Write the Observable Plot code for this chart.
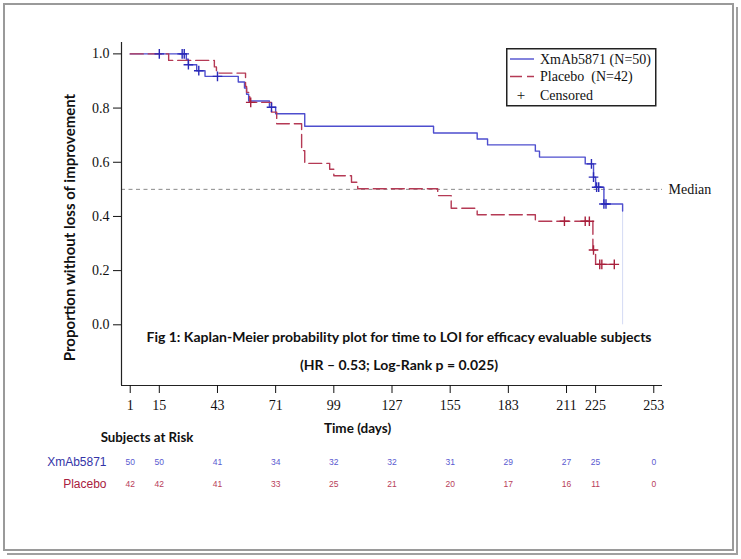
<!DOCTYPE html>
<html>
<head>
<meta charset="utf-8">
<script src="https://cdn.jsdelivr.net/npm/d3@7"></script>
<script src="https://cdn.jsdelivr.net/npm/@observablehq/plot@0.6"></script>
<style>
  html, body { margin: 0; padding: 0; background: #fff; }
  #wrap { position: relative; width: 741px; height: 559px; overflow: hidden; }
  #border { position: absolute; left: 3px; top: 3px; width: 727px; height: 544px; border: 2px solid #9a9a9a; box-shadow: 2px 2px 0 0 #fff, 4px 4px 0 0 #a0a0a0; }
  #legend { position: absolute; left: 506px; top: 48px; }
</style>
</head>
<body>
<div id="wrap">
  <div id="border"></div>
  <div id="chart"></div>
  <div id="legend"></div>
</div>
<script>
// ---- data ----
const xmabTime = [1, 28, 29, 33, 37, 53, 56, 57, 58, 68, 71, 85, 147, 168, 173, 196, 198, 220, 224, 225, 229, 238];
const xmabSurv = [1, 0.98, 0.96, 0.938, 0.917, 0.896, 0.874, 0.851, 0.826, 0.803, 0.779, 0.733, 0.708, 0.686, 0.664, 0.641, 0.619, 0.594, 0.545, 0.508, 0.446, 0.42];
const placeboTime = [1, 19.5, 41.5, 42.5, 56.5, 57, 58.5, 69, 71.5, 83.5, 85, 97, 99, 107.5, 110.5, 149, 155.5, 168, 196, 223.7, 225, 234];
const placeboSurv = [1, 0.976, 0.952, 0.929, 0.88, 0.858, 0.821, 0.785, 0.742, 0.643, 0.596, 0.574, 0.55, 0.526, 0.502, 0.477, 0.43, 0.406, 0.382, 0.276, 0.223, 0.223];
const xmabCensTime = [15, 26, 27, 29, 34, 43, 69, 223, 224, 225.5, 226.5, 229, 230];
const xmabCensSurv = [1, 1, 1, 0.96, 0.938, 0.917, 0.803, 0.594, 0.545, 0.508, 0.508, 0.446, 0.446];
const placeboCensTime = [59, 210, 220, 222, 224, 227, 228, 234];
const placeboCensSurv = [0.821, 0.382, 0.382, 0.382, 0.276, 0.223, 0.223, 0.223];
const riskDays = [1, 15, 43, 71, 99, 127, 155, 183, 211, 225, 253];
const xmabRisk = [50, 50, 41, 34, 32, 32, 31, 29, 27, 25, 0];
const placeboRisk = [42, 42, 41, 33, 25, 21, 20, 17, 16, 11, 0];
const yTicks = [0, 0.2, 0.4, 0.6, 0.8, 1.0];
const lastXmabTime = 238, lastXmabSurv = 0.42;
const medianLevel = 0.5;

const xmab = xmabTime.map((t, i) => ({t, s: xmabSurv[i]}));
const placebo = placeboTime.map((t, i) => ({t, s: placeboSurv[i]}));
const xmabCens = xmabCensTime.map((t, i) => ({t, s: xmabCensSurv[i]}));
const placeboCens = placeboCensTime.map((t, i) => ({t, s: placeboCensSurv[i]}));

const BLUE = "#4e4ece", RED = "#b53a55";
const SERIF = "Liberation Serif, Times New Roman, serif";
const SANS = "Lato, Open Sans, sans-serif";
const ARIAL = "Liberation Sans, Arial, sans-serif";
const xDom = [-3.2, 257.2], yDom = [-0.224, 1.042];
const T = {lineAnchor: "middle", textAnchor: "middle"};

const chart = Plot.plot({
  width: 741,
  height: 559,
  marginLeft: 121,
  marginRight: 79,
  marginTop: 42,
  marginBottom: 174,
  style: {background: "transparent", overflow: "visible"},
  x: {domain: xDom},
  y: {domain: yDom},
  marks: [
    Plot.ruleY([medianLevel], {stroke: "#8a8a8a", strokeDasharray: "4,3.5", strokeWidth: 1}),
    Plot.text([medianLevel], {y: d => d, frameAnchor: "right", dx: 6, textAnchor: "start", lineAnchor: "middle", text: () => "Median", fontFamily: SERIF, fontSize: 14, fill: "#111"}),
    Plot.ruleX([lastXmabTime], {y1: 0, y2: lastXmabSurv, stroke: "#d4daf4", strokeWidth: 1}),
    Plot.line(xmab, {x: "t", y: "s", curve: "step-after", stroke: BLUE, strokeWidth: 1.4}),
    Plot.line(placebo, {x: "t", y: "s", curve: "step-after", stroke: RED, strokeWidth: 1.4, strokeDasharray: "13,5"}),
    Plot.dot(placeboCens, {x: "t", y: "s", symbol: "plus", r: 3.2, stroke: "#a8203c", strokeWidth: 1.4}),
    Plot.dot(xmabCens, {x: "t", y: "s", symbol: "plus", r: 3.2, stroke: "#2a2ab8", strokeWidth: 1.4}),
    Plot.ruleX([xDom[0]], {stroke: "#222", strokeWidth: 1.2}),
    Plot.ruleY([yDom[0]], {stroke: "#222", strokeWidth: 1.2}),
    Plot.axisY({ticks: yTicks, tickFormat: d3.format(".1f"), tickSize: 8, tickPadding: 4, fontFamily: SERIF, fontSize: 14, label: null, color: "#111"}),
    Plot.axisX({ticks: riskDays, tickFormat: d => String(d), tickSize: 8, tickPadding: 7, fontFamily: SERIF, fontSize: 14, label: null, color: "#111"}),
    Plot.text(["Fig 1: Kaplan-Meier probability plot for time to LOI for efficacy evaluable subjects"], {...T, frameAnchor: "bottom", dx: 7, dy: -48, text: d => d, fontFamily: SANS, fontWeight: "bold", fontSize: 14, fill: "#111"}),
    Plot.text(["(HR \u2013 0.53; Log-Rank p = 0.025)"], {...T, frameAnchor: "bottom", dx: 7, dy: -20, text: d => d, fontFamily: SANS, fontWeight: "bold", fontSize: 14, fill: "#111"}),
    Plot.text(["Time (days)"], {...T, frameAnchor: "bottom", dx: -34.5, dy: 43.5, text: d => d, fontFamily: SANS, fontWeight: "bold", fontSize: 13.5, fill: "#111"}),
    Plot.text(["Subjects at Risk"], {...T, frameAnchor: "bottom-left", dx: 25.5, dy: 52, text: d => d, fontFamily: SANS, fontWeight: "bold", fontSize: 13.3, fill: "#111"}),
    Plot.text(["XmAb5871"], {frameAnchor: "bottom-left", dx: -15, dy: 77, textAnchor: "end", lineAnchor: "middle", text: d => d, fontFamily: ARIAL, fontSize: 12, fill: "#3434a8"}),
    Plot.text(["Placebo"], {frameAnchor: "bottom-left", dx: -15, dy: 98.5, textAnchor: "end", lineAnchor: "middle", text: d => d, fontFamily: ARIAL, fontSize: 12, fill: "#a82040"}),
    Plot.text(riskDays, {...T, x: d => d, frameAnchor: "bottom", dy: 77, text: (d, i) => String(xmabRisk[i]), fontFamily: ARIAL, fontSize: 8.5, fill: "#5a5ad0"}),
    Plot.text(riskDays, {...T, x: d => d, frameAnchor: "bottom", dy: 98.5, text: (d, i) => String(placeboRisk[i]), fontFamily: ARIAL, fontSize: 8.5, fill: "#b8405a"})
  ]
});
document.getElementById("chart").appendChild(chart);

// y-axis title (rotated) added to the chart's SVG
d3.select(chart).append("text")
  .attr("transform", "translate(70,227.5) rotate(-90)")
  .attr("text-anchor", "middle").attr("dy", "0.35em")
  .attr("font-family", SANS).attr("font-weight", "bold").attr("font-size", 15).attr("fill", "#111")
  .text("Proportion without loss of improvement");

// legend
const legendItems = [
  {label: "XmAb5871 (N=50)", kind: "solid", color: BLUE},
  {label: "Placebo\u00a0 (N=42)", kind: "dash", color: RED},
  {label: "Censored", kind: "plus", color: "#111"}
];
const lg = d3.select("#legend").append("svg").attr("width", 152).attr("height", 60);
lg.append("rect").attr("x", 0.75).attr("y", 0.75).attr("width", 149).attr("height", 57).attr("fill", "#fff").attr("stroke", "#222").attr("stroke-width", 1.5);
const rowY = [11, 28.5, 47];
legendItems.forEach((it, i) => {
  const y = rowY[i];
  if (it.kind === "solid") {
    lg.append("line").attr("x1", 4).attr("x2", 28).attr("y1", y).attr("y2", y).attr("stroke", it.color).attr("stroke-width", 1.4);
  } else if (it.kind === "dash") {
    lg.append("line").attr("x1", 4).attr("x2", 28).attr("y1", y).attr("y2", y).attr("stroke", it.color).attr("stroke-width", 1.4).attr("stroke-dasharray", "12,5");
  } else {
    lg.append("text").attr("x", 15).attr("y", y).attr("dy", "0.35em").attr("text-anchor", "middle").attr("font-family", SERIF).attr("font-size", 15).attr("fill", it.color).text("+");
  }
  lg.append("text").attr("x", 34).attr("y", y).attr("dy", "0.35em").attr("font-family", SERIF).attr("font-size", 14).attr("fill", "#111").text(it.label);
});
</script>
</body>
</html>
